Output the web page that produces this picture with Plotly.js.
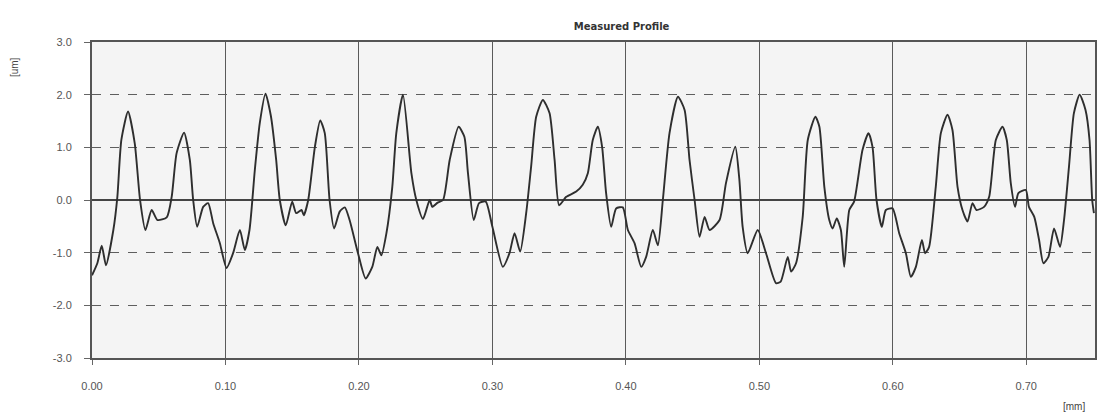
<!DOCTYPE html>
<html>
<head>
<meta charset="utf-8">
<script src="https://cdn.plot.ly/plotly-3.0.1.min.js"></script>
<style>html,body{margin:0;padding:0;background:#fff;}#chart{width:1097px;height:418px;}</style>
</head>
<body>
<div id="chart"></div>
<script>
const positionMm = [0.000,0.004,0.0073,0.0105,0.016,0.019,0.022,0.027,0.032,0.036,0.040,0.0447,0.049,0.056,0.0597,0.0634,0.069,0.0733,0.0758,0.0788,0.0833,0.087,0.0908,0.0958,0.1008,0.1057,0.1108,0.1145,0.118,0.122,0.1257,0.130,0.134,0.138,0.1407,0.1452,0.150,0.153,0.157,0.1587,0.162,0.167,0.171,0.1744,0.178,0.1814,0.1856,0.1894,0.193,0.1993,0.205,0.210,0.2138,0.2168,0.2206,0.225,0.228,0.233,0.2393,0.243,0.248,0.253,0.255,0.259,0.263,0.268,0.2747,0.279,0.2817,0.286,0.290,0.295,0.300,0.3078,0.3128,0.3166,0.3208,0.3253,0.329,0.3328,0.3378,0.3428,0.3466,0.350,0.3553,0.3628,0.3677,0.3715,0.3752,0.379,0.3822,0.3852,0.389,0.3927,0.3977,0.4015,0.4065,0.4115,0.4152,0.4202,0.424,0.4277,0.4327,0.439,0.444,0.4477,0.4515,0.4552,0.459,0.4627,0.4702,0.475,0.482,0.485,0.4875,0.4913,0.4988,0.505,0.5125,0.516,0.5213,0.5238,0.5275,0.5325,0.5363,0.542,0.545,0.5487,0.5524,0.5549,0.558,0.5611,0.5636,0.5674,0.571,0.5773,0.5818,0.5848,0.5878,0.5918,0.5948,0.5998,0.6048,0.6098,0.6135,0.6173,0.6218,0.6242,0.6272,0.6322,0.636,0.641,0.6447,0.6485,0.6522,0.656,0.6597,0.6627,0.6684,0.6722,0.6772,0.6822,0.6854,0.6884,0.6916,0.6941,0.6997,0.702,0.706,0.7096,0.7128,0.7166,0.7208,0.7253,0.7283,0.732,0.7357,0.740,0.7444,0.7474,0.7494,0.7507];
const heightUm = [-1.43,-1.2,-0.87,-1.24,-0.57,0.06,1.14,1.68,1.08,0.0,-0.57,-0.19,-0.38,-0.33,0.06,0.89,1.28,0.76,0.0,-0.51,-0.13,-0.06,-0.44,-0.82,-1.29,-1.01,-0.57,-0.95,-0.57,0.57,1.46,2.02,1.6,0.76,0.0,-0.48,-0.03,-0.25,-0.19,-0.29,0.0,1.01,1.51,1.27,0.0,-0.54,-0.22,-0.14,-0.38,-1.01,-1.49,-1.27,-0.89,-1.05,-0.63,0.25,1.27,2.0,0.51,0.0,-0.36,0.0,-0.13,-0.05,0.0,0.76,1.39,1.2,0.51,-0.38,-0.06,-0.03,-0.51,-1.27,-1.01,-0.63,-0.98,-0.25,0.63,1.58,1.90,1.65,0.76,-0.1,0.06,0.16,0.29,0.51,1.14,1.39,1.01,0.13,-0.51,-0.16,-0.14,-0.57,-0.82,-1.27,-1.08,-0.57,-0.86,0.0,1.27,1.96,1.71,0.76,0.0,-0.70,-0.32,-0.57,-0.38,0.32,1.01,0.4,-0.51,-1.01,-0.57,-1.01,-1.58,-1.55,-1.08,-1.36,-1.2,-0.32,1.14,1.58,1.39,0.25,-0.38,-0.54,-0.35,-0.57,-1.27,-0.19,-0.03,0.95,1.27,1.01,0.0,-0.51,-0.19,-0.16,-0.63,-1.01,-1.46,-1.27,-0.76,-1.01,-0.89,0.25,1.27,1.62,1.33,0.25,-0.19,-0.41,-0.06,-0.19,-0.13,0.06,1.14,1.39,1.14,0.32,-0.13,0.13,0.19,-0.13,-0.32,-0.76,-1.2,-1.08,-0.54,-0.89,-0.38,0.63,1.65,2.0,1.71,1.14,0.0,-0.25];
const xTickVals = [0,0.1,0.2,0.3,0.4,0.5,0.6,0.7];
const xTickText = ['0.00','0.10','0.20','0.30','0.40','0.50','0.60','0.70'];
const yTickVals = [-3,-2,-1,0,1,2,3];
const yTickText = ['-3.0','-2.0','-1.0','0.0','1.0','2.0','3.0'];

const trace = {
  x: positionMm, y: heightUm, type: 'scatter', mode: 'lines',
  line: {color: '#2e2e2e', width: 1.9, shape: 'spline', smoothing: 0.6}, hoverinfo: 'skip'
};
const tickFont = {family: 'Liberation Sans, Arial, sans-serif', size: 11, color: '#555'};
const layout = {
  width: 1097, height: 418,
  margin: {l: 92, r: 2, t: 42, b: 60},
  paper_bgcolor: '#ffffff', plot_bgcolor: '#f4f4f4',
  showlegend: false,
  title: {text: 'Measured Profile', x: 0.528, xref: 'paper', xanchor: 'center', y: 0.945, yref: 'container',
          font: {family: 'DejaVu Sans, sans-serif', size: 10, color: '#333', weight: 'bold'}},
  xaxis: {
    range: [0, 0.7515], tickvals: xTickVals, ticktext: xTickText,
    showgrid: true, gridcolor: '#5a5a5a', gridwidth: 1,
    zeroline: false, showline: true, linecolor: '#555', linewidth: 2, mirror: true,
    ticks: 'outside', ticklen: 5, tickcolor: '#666', ticklabelstandoff: 12,
    tickfont: tickFont
  },
  yaxis: {
    range: [-3, 3], tickvals: yTickVals, ticktext: yTickText,
    showgrid: true, gridcolor: '#5e5e5e', gridwidth: 1, griddash: 'dash',
    zeroline: true, zerolinecolor: '#444', zerolinewidth: 2.5,
    showline: true, linecolor: '#555', linewidth: 2, mirror: true,
    ticks: 'outside', ticklen: 6, tickcolor: '#666', ticklabelstandoff: 10,
    tickfont: tickFont
  },
  annotations: [
    {text: '[um]', xref: 'paper', yref: 'paper', x: -0.07, y: 0.92, xanchor: 'center', yanchor: 'middle',
     textangle: -90, showarrow: false, xshift: -8, font: {family: 'Liberation Sans, sans-serif', size: 10, color: '#444'}},
    {text: '[mm]', xref: 'paper', yref: 'paper', x: 0.985, y: -0.155, xanchor: 'center', yanchor: 'middle',
     showarrow: false, xshift: -6, font: {family: 'Liberation Sans, sans-serif', size: 10, color: '#444'}}
  ]
};
Plotly.newPlot('chart', [trace], layout, {displayModeBar: false, staticPlot: true});
</script>
</body>
</html>
